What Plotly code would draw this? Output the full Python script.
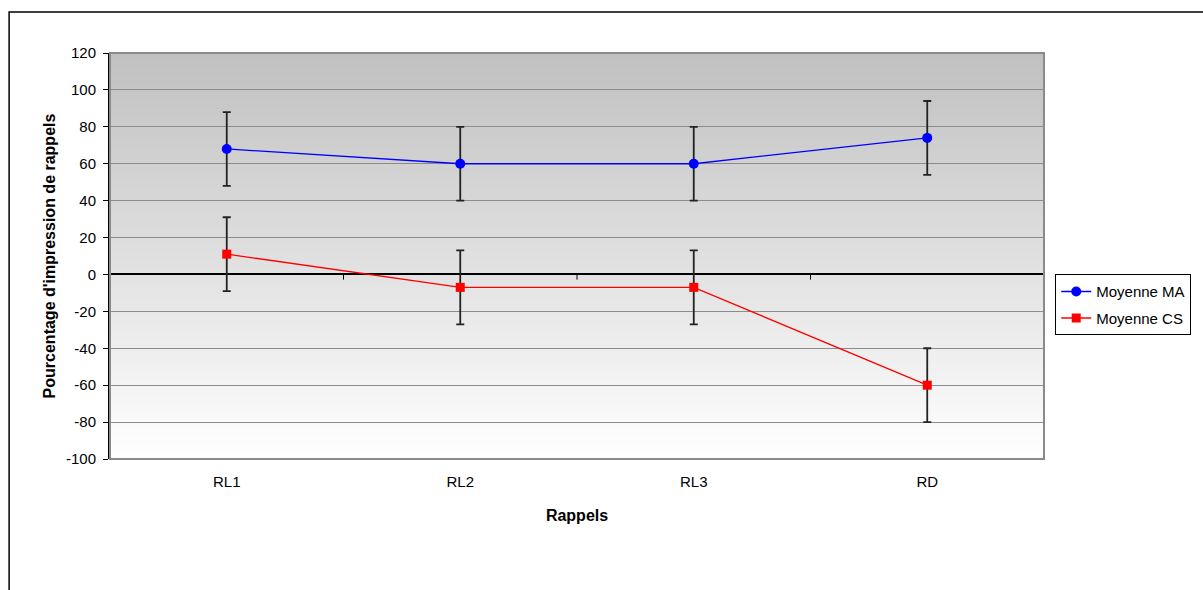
import plotly.graph_objects as go

# Recall sessions and mean percentages per group
rappels = ["RL1", "RL2", "RL3", "RD"]
moyenne_ma = [68, 60, 60, 74]
moyenne_cs = [11, -7, -7, -60]
erreur_ma = [20, 20, 20, 20]
erreur_cs = [20, 20, 20, 20]

y_ticks = list(range(-100, 121, 20))
y_min, y_max = -100, 120

fig = go.Figure()

fig.add_trace(go.Scatter(
    x=rappels, y=moyenne_ma, name="Moyenne MA", mode="lines+markers",
    legendgroup="ma",
    line=dict(color="#0000ff", width=1.3),
    marker=dict(symbol="circle", size=10, color="#0000ff"),
    error_y=dict(type="data", array=erreur_ma, color="#222222", thickness=1.8, width=4),
))
fig.add_trace(go.Scatter(
    x=rappels, y=moyenne_cs, name="Moyenne CS", mode="lines+markers",
    legendgroup="cs",
    line=dict(color="#ff0000", width=1.3),
    marker=dict(symbol="square", size=9, color="#ff0000"),
    error_y=dict(type="data", array=erreur_cs, color="#222222", thickness=1.8, width=4),
))

shapes = []
# vertical gray-to-white gradient behind the gridlines
n_bands = 220
step = (y_max - y_min) / n_bands
for i in range(n_bands):
    t = (i + 0.5) / n_bands  # 0 at bottom, 1 at top
    v = round(255 - (255 - 192) * t)
    shapes.append(dict(
        type="rect", xref="x domain", yref="y", layer="below",
        x0=0, x1=1, y0=y_min + i * step, y1=min(y_max, y_min + (i + 1) * step + step),
        fillcolor=f"rgb({v},{v},{v})", line=dict(width=0),
    ))
# plot area border
shapes.append(dict(
    type="rect", xref="x domain", yref="y domain", layer="above",
    x0=0, x1=1, y0=0, y1=1, line=dict(color="#8a8a8a", width=2),
))
# category separator ticks on the zero axis
for xb in [0.5, 1.5, 2.5]:
    shapes.append(dict(
        type="line", xref="x", yref="y", layer="above",
        x0=xb, x1=xb, y0=0, y1=-2.8, line=dict(color="black", width=1),
    ))
# outer chart frame
shapes.append(dict(
    type="rect", xref="paper", yref="paper", layer="above",
    x0=-0.108, x1=1.3, y0=-0.6, y1=1.101, line=dict(color="black", width=1.5),
))

fig.update_layout(
    width=1203, height=590,
    margin=dict(l=110, r=157, t=53, b=131),
    paper_bgcolor="white",
    plot_bgcolor="rgba(0,0,0,0)",
    font=dict(family="Liberation Sans, Arial", size=15, color="black"),
    shapes=shapes,
    showlegend=True,
    legend=dict(
        x=1.012, y=0.455, xanchor="left", yanchor="top",
        bordercolor="black", borderwidth=1, bgcolor="white",
        font=dict(size=15), traceorder="grouped", tracegroupgap=4,
    ),
    xaxis=dict(
        range=[-0.5, 3.5], showgrid=False, showline=False, ticks="",
        ticklabelstandoff=12,
        title=dict(text="<b>Rappels</b>", font=dict(size=16), standoff=20),
    ),
    yaxis=dict(
        range=[y_min, y_max], tickvals=y_ticks, ticktext=[str(v) for v in y_ticks],
        showgrid=True, gridcolor="#8c8c8c", gridwidth=1.3,
        zeroline=True, zerolinecolor="black", zerolinewidth=2,
        showline=True, linecolor="black", linewidth=2,
        ticks="outside", ticklen=5, tickcolor="black", ticklabelstandoff=4,
        title=dict(text="<b>Pourcentage d'impression de rappels</b>", font=dict(size=16), standoff=6),
    ),
)

fig.write_html("out.html")
